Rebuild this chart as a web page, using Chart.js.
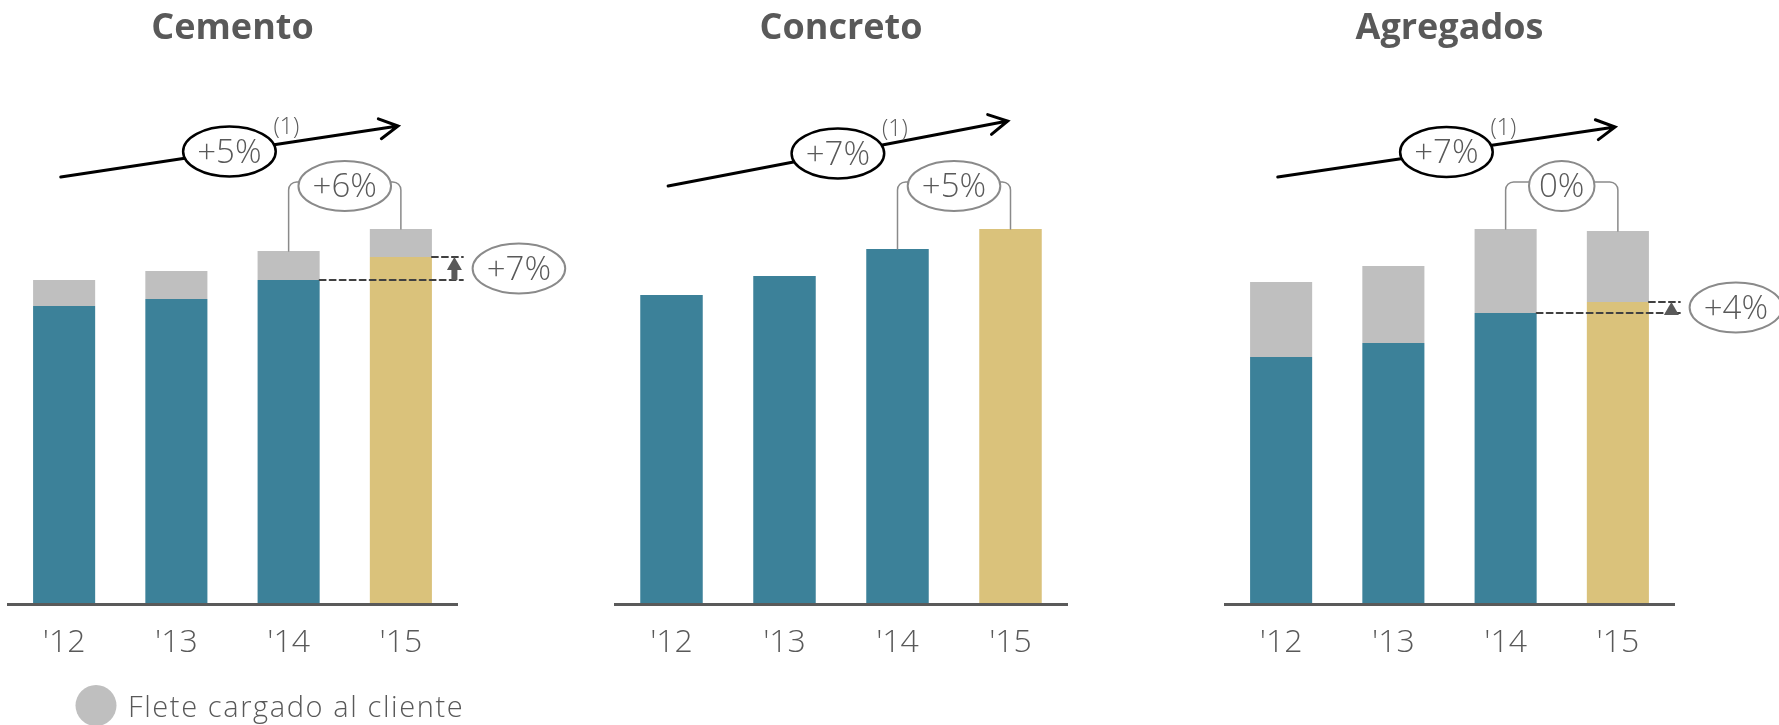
<!DOCTYPE html>
<html>
<head>
<meta charset="utf-8">
<script src="https://cdn.jsdelivr.net/npm/chart.js@4.4.0/dist/chart.umd.min.js"></script>
<style>
  html, body { margin: 0; padding: 0; background: #fff; }
  #wrap { position: relative; width: 1779px; height: 725px; }
  #wrap canvas { position: absolute; left: 0; top: 0; }
</style>
</head>
<body>
<div id="wrap">
  <canvas id="cemento" width="1779" height="725"></canvas>
  <canvas id="concreto" width="1779" height="725"></canvas>
  <canvas id="agregados" width="1779" height="725"></canvas>
</div>
<script>
// Data (bar heights in axis units)
const years = ["'12", "'13", "'14", "'15"];
const cementoBase = [298, 305, 324, 347];
const cementoFlete = [26, 28, 29, 28];
const concretoBase = [309, 328, 355, 375];
const concretoFlete = [0, 0, 0, 0];
const agregadosBase = [247, 261, 291, 302];
const agregadosFlete = [75, 77, 84, 71];
const titles = ['Cemento', 'Concreto', 'Agregados'];
const cagr = ['+5%', '+7%', '+7%'];
const growthTotal = ['+6%', '+5%', '0%'];
const growthBase = ['+7%', null, '+4%'];
const fleteLabel = 'Flete cargado al cliente';

const TEAL = '#3c8199', GOLD = '#dac27b', GREY = '#bfbfbf', TEXT = '#595959', LINE = '#8a8a8a';
const FONT = "'Open Sans', 'DejaVu Sans', sans-serif";

// ellipse with a label inside
function bubble(ctx, cx, cy, text, stroke, lw) {
  ctx.font = '300 33px ' + FONT;
  const rx = ctx.measureText(text).width * 0.72;
  ctx.beginPath();
  ctx.ellipse(cx, cy, rx, 25, 0, 0, Math.PI * 2);
  ctx.fillStyle = '#fff';
  ctx.fill();
  ctx.lineWidth = lw;
  ctx.strokeStyle = stroke;
  ctx.stroke();
  ctx.fillStyle = TEXT;
  ctx.textAlign = 'center';
  ctx.textBaseline = 'middle';
  ctx.fillText(text, cx, cy + 2);
  return rx;
}

// trend arrow, bracket between '14 and '15 and the base comparison
const annotations = {
  id: 'annotations',
  afterDatasetsDraw(chart, args, o) {
    const ctx = chart.ctx;
    const x = chart.scales.x, y = chart.scales.y;
    const base = chart.data.datasets[0].data;
    const flete = chart.data.datasets[1].data;
    const bars = chart.getDatasetMeta(0).data;
    ctx.save();

    // trend arrow
    const x0 = x.getPixelForValue(-0.03), y0 = y.getPixelForValue(o.trend[0]);
    const x1 = x.getPixelForValue(2.975), y1 = y.getPixelForValue(o.trend[1]);
    const ang = Math.atan2(y1 - y0, x1 - x0);
    ctx.strokeStyle = '#000';
    ctx.lineWidth = 3;
    ctx.lineCap = 'round';
    ctx.beginPath();
    ctx.moveTo(x0, y0);
    ctx.lineTo(x1, y1);
    ctx.moveTo(x1 + 21 * Math.cos(ang + Math.PI - 0.5), y1 + 21 * Math.sin(ang + Math.PI - 0.5));
    ctx.lineTo(x1, y1);
    ctx.lineTo(x1 + 21 * Math.cos(ang + Math.PI + 0.5), y1 + 21 * Math.sin(ang + Math.PI + 0.5));
    ctx.stroke();
    const mx = (x0 + x1) / 2, my = (y0 + y1) / 2;
    bubble(ctx, mx, my, o.cagr, '#000', 2.5);
    ctx.font = '300 23px ' + FONT;
    ctx.fillStyle = TEXT;
    ctx.fillText('(1)', mx + 57, my - 24);

    // bracket over the last two totals
    const cx = x.getPixelForValue(2.5), cy = y.getPixelForValue(418);
    ctx.font = '300 33px ' + FONT;
    const rx = ctx.measureText(o.total).width * 0.72;
    const yb = y.getPixelForValue(422);
    const xl = bars[2].x, xr = bars[3].x;
    const tl = y.getPixelForValue(base[2] + flete[2]);
    const tr = y.getPixelForValue(base[3] + flete[3]);
    ctx.strokeStyle = LINE;
    ctx.lineWidth = 1.5;
    ctx.beginPath();
    ctx.moveTo(xl, tl);
    ctx.arcTo(xl, yb, xl + 10, yb, 8);
    ctx.lineTo(cx - rx + 2, yb);
    ctx.moveTo(xr, tr);
    ctx.arcTo(xr, yb, xr - 10, yb, 8);
    ctx.lineTo(cx + rx - 2, yb);
    ctx.stroke();
    bubble(ctx, cx, cy, o.total, LINE, 2);

    // comparison of the base between '14 and '15
    if (o.base) {
      const right3 = bars[3].x + bars[3].width / 2;
      const right2 = bars[2].x + bars[2].width / 2;
      const lo = y.getPixelForValue(base[2]);
      const hi = y.getPixelForValue(base[3]);
      ctx.strokeStyle = '#404040';
      ctx.lineWidth = 2;
      ctx.setLineDash([6, 4]);
      ctx.beginPath();
      ctx.moveTo(right2, lo);
      ctx.lineTo(right3 + 31, lo);
      ctx.moveTo(right3, hi);
      ctx.lineTo(right3 + 31, hi);
      ctx.stroke();
      ctx.setLineDash([]);
      const ax = right3 + 22.5;
      ctx.fillStyle = TEXT;
      ctx.beginPath();
      ctx.moveTo(ax, hi);
      ctx.lineTo(ax + 7.5, hi + 13);
      ctx.lineTo(ax - 7.5, hi + 13);
      ctx.closePath();
      ctx.fill();
      if (lo > hi + 13) ctx.fillRect(ax - 3, hi + 12, 6, lo - hi - 12);
      bubble(ctx, right3 + 87, (lo + hi) / 2, o.base, LINE, 2);
    }
    ctx.restore();
  }
};

// legend for the freight series
const fleteLegend = {
  id: 'fleteLegend',
  afterDraw(chart) {
    const ctx = chart.ctx;
    const ds = chart.data.datasets[1];
    const left = chart.scales.x.left;
    ctx.save();
    ctx.fillStyle = ds.backgroundColor;
    ctx.beginPath();
    ctx.arc(left + 88, 705.5, 20.5, 0, Math.PI * 2);
    ctx.fill();
    ctx.fillStyle = TEXT;
    ctx.font = '300 29px ' + FONT;
    ctx.letterSpacing = '1.6px';
    ctx.textAlign = 'left';
    ctx.textBaseline = 'middle';
    ctx.fillText(ds.label, left + 120, 709);
    ctx.restore();
  }
};

function makeChart(id, i, base, flete, padLeft, padRight, trend, extra) {
  new Chart(document.getElementById(id), {
    type: 'bar',
    data: {
      labels: years,
      datasets: [
        {
          label: titles[i],
          data: base,
          backgroundColor: [TEAL, TEAL, TEAL, GOLD],
          barPercentage: 0.553,
          categoryPercentage: 1
        },
        {
          label: fleteLabel,
          data: flete,
          backgroundColor: GREY,
          barPercentage: 0.553,
          categoryPercentage: 1
        }
      ]
    },
    options: {
      responsive: false,
      animation: false,
      layout: { padding: { left: padLeft, right: padRight, top: 0, bottom: 0 } },
      plugins: {
        legend: { display: false },
        tooltip: { enabled: false },
        title: {
          display: true,
          text: titles[i],
          color: TEXT,
          font: { family: FONT, size: 36, weight: 'bold', lineHeight: 1 },
          padding: { top: 11, bottom: 57 }
        },
        annotations: { trend: trend, cagr: cagr[i], total: growthTotal[i], base: growthBase[i] }
      },
      scales: {
        x: {
          stacked: true,
          grid: { display: false, drawTicks: false },
          border: { display: true, color: '#5a5a5a', width: 3, z: 1 },
          ticks: { color: TEXT, font: { family: FONT, size: 32, weight: '300' }, padding: 20 },
          afterFit(scale) { scale.height = 121; }
        },
        y: { stacked: true, display: false, min: 0, max: 500 }
      }
    },
    plugins: extra ? [annotations, extra] : [annotations]
  });
}

makeChart('cemento', 0, cementoBase, cementoFlete, 8, 1322, [427, 478], fleteLegend);
makeChart('concreto', 1, concretoBase, concretoFlete, 615, 712, [418, 483]);
makeChart('agregados', 2, agregadosBase, agregadosFlete, 1225, 105, [427, 477]);
</script>
</body>
</html>
